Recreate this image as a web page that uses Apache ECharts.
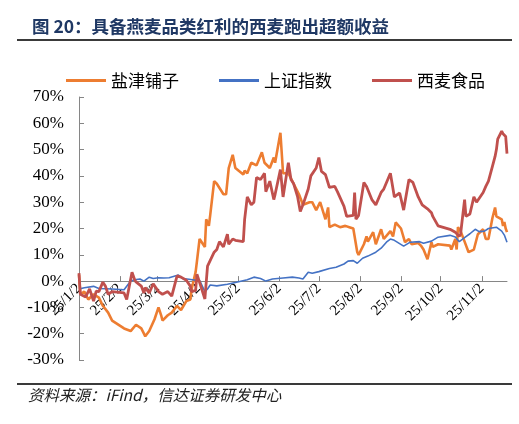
<!DOCTYPE html>
<html>
<head>
<meta charset="utf-8">
<script src="https://cdn.jsdelivr.net/npm/echarts@6/dist/echarts.min.js"></script>
<style>
  html, body { margin: 0; padding: 0; background: #fff; }
  #main { width: 519px; height: 424px; }
</style>
</head>
<body>
<div id="main"></div>
<script>
// 图表数据（从原图读取的估计值，单位 %）
let names = ['盐津铺子', '上证指数', '西麦食品']
let colors = ['#ED7D31', '#4472C4', '#C0504D']

let tickDates = ['2025-01-02', '2025-02-02', '2025-03-02', '2025-04-02', '2025-05-02', '2025-06-02',
  '2025-07-02', '2025-08-02', '2025-09-02', '2025-10-02', '2025-11-02']
let tickLabels = ['25/1/2', '25/2/2', '25/3/2', '25/4/2', '25/5/2', '25/6/2',
  '25/7/2', '25/8/2', '25/9/2', '25/10/2', '25/11/2']

let yanjinDates = ['2025-01-02','2025-01-03','2025-01-06','2025-01-09','2025-01-13','2025-01-14','2025-01-17','2025-01-20','2025-01-24','2025-01-27',
  '2025-02-05','2025-02-10','2025-02-14','2025-02-18','2025-02-20','2025-02-21','2025-02-24','2025-02-28',
  '2025-03-03','2025-03-05','2025-03-06','2025-03-10','2025-03-13','2025-03-17','2025-03-20','2025-03-24','2025-03-27','2025-03-28','2025-03-31',
  '2025-04-01','2025-04-03','2025-04-07','2025-04-08','2025-04-10','2025-04-11','2025-04-14','2025-04-16','2025-04-21','2025-04-23','2025-04-25','2025-04-28','2025-04-30',
  '2025-05-06','2025-05-07','2025-05-09','2025-05-12','2025-05-16','2025-05-20','2025-05-22','2025-05-26','2025-05-29','2025-05-30',
  '2025-06-03','2025-06-05','2025-06-09','2025-06-13','2025-06-17','2025-06-20','2025-06-25','2025-06-27','2025-06-30',
  '2025-07-03','2025-07-07','2025-07-09','2025-07-10','2025-07-14','2025-07-18','2025-07-22','2025-07-25','2025-07-28','2025-07-31',
  '2025-08-01','2025-08-05','2025-08-07','2025-08-08','2025-08-12','2025-08-14','2025-08-18','2025-08-20','2025-08-25','2025-08-27','2025-08-29',
  '2025-09-02','2025-09-05','2025-09-08','2025-09-10','2025-09-15','2025-09-17','2025-09-19','2025-09-22','2025-09-25','2025-09-26','2025-09-30',
  '2025-10-09','2025-10-10','2025-10-13','2025-10-14','2025-10-15','2025-10-17','2025-10-20','2025-10-23','2025-10-27','2025-10-30',
  '2025-11-03','2025-11-05','2025-11-07','2025-11-10','2025-11-12','2025-11-13','2025-11-17','2025-11-18','2025-11-19','2025-11-20','2025-11-21']
let yanjinVals = [2.5,-5,-4,-7,-5,-5.5,-6.3,-9.4,-12,-15,
  -18,-19,-16.6,-18,-20,-21,-19,-14.5,
  -10,-13,-15,-13,-12,-9.4,-11,-7.6,-7,-3,3.4,
  7.5,16,13,23.5,21,25,38,37,33,33,43,48,43,
  40.5,42,41,45,44,49,45,43,47,45,
  56.4,41,41,37,33,29,30,30,27,
  30,23.5,28,20.5,21.5,20.5,21,20.5,20,11,
  10,14,17,15,18.6,14,19.7,16,19,17,22.3,
  20,14.8,16,14,14.5,13.5,12,8.3,14.8,13,14,
  13.5,12,16,12,20.5,19,15,11,12,17.8,
  19.7,16,16,24,28,24.6,23.5,21,22.5,20,18.6]

let shangzhengDates = ['2025-01-02','2025-01-06','2025-01-13','2025-01-17','2025-01-27',
  '2025-02-05','2025-02-10','2025-02-13','2025-02-17','2025-02-20','2025-02-24','2025-02-27',
  '2025-03-03','2025-03-07','2025-03-11','2025-03-18','2025-03-21','2025-03-26','2025-03-31',
  '2025-04-03','2025-04-07','2025-04-09','2025-04-11','2025-04-16','2025-04-24','2025-04-30',
  '2025-05-09','2025-05-14','2025-05-19','2025-05-23','2025-05-28',
  '2025-06-05','2025-06-12','2025-06-17','2025-06-20','2025-06-24','2025-06-27',
  '2025-07-02','2025-07-10','2025-07-15','2025-07-21','2025-07-24','2025-07-28','2025-07-31',
  '2025-08-04','2025-08-08','2025-08-14','2025-08-18','2025-08-22','2025-08-25','2025-08-28',
  '2025-09-04','2025-09-09','2025-09-16','2025-09-19','2025-09-25','2025-09-30',
  '2025-10-09','2025-10-13','2025-10-16','2025-10-20','2025-10-24','2025-10-28','2025-10-31',
  '2025-11-04','2025-11-07','2025-11-13','2025-11-17','2025-11-19','2025-11-21']
let shangzhengVals = [-3,-2.5,-2,-2.8,-3,
  -3.3,0,0.5,0.8,0,1.5,1,
  1.3,1.2,1.3,2.3,1,0.7,0.3,
  0.3,-4,-3,-1.5,-1.8,-1.2,-0.5,
  0.5,1.5,1,0,0.8,
  1.2,1.5,1.2,0.8,3.4,3,
  3.6,4.8,5.3,6.5,7.6,7.8,6.8,
  8.7,9.5,11,12.5,14.8,16,15.5,
  13.3,14.8,15,14.4,15.2,16.7,
  17.4,16.8,15,16.5,18,19.7,18.8,
  19,20,20.5,19,17.5,14.8]

let ximaiDates = ['2025-01-02','2025-01-03','2025-01-07','2025-01-10','2025-01-13','2025-01-15','2025-01-17','2025-01-20','2025-01-22','2025-01-24','2025-01-27',
  '2025-02-05','2025-02-07','2025-02-11','2025-02-13','2025-02-14','2025-02-18','2025-02-20','2025-02-21','2025-02-24','2025-02-27',
  '2025-03-03','2025-03-06','2025-03-10','2025-03-13','2025-03-14','2025-03-17','2025-03-20','2025-03-24','2025-03-27','2025-03-28','2025-03-31',
  '2025-04-01','2025-04-03','2025-04-07','2025-04-09','2025-04-14','2025-04-16','2025-04-18','2025-04-21','2025-04-24','2025-04-25','2025-04-28','2025-04-30',
  '2025-05-06','2025-05-07','2025-05-09','2025-05-12','2025-05-14','2025-05-16','2025-05-19','2025-05-22','2025-05-23','2025-05-26','2025-05-29','2025-05-30',
  '2025-06-03','2025-06-05','2025-06-09','2025-06-11','2025-06-13','2025-06-16','2025-06-18','2025-06-20','2025-06-24','2025-06-26','2025-06-30',
  '2025-07-02','2025-07-04','2025-07-07','2025-07-10','2025-07-14','2025-07-16','2025-07-21','2025-07-23','2025-07-28','2025-07-29','2025-07-30',
  '2025-08-01','2025-08-05','2025-08-07','2025-08-11','2025-08-14','2025-08-18','2025-08-20','2025-08-25','2025-08-28',
  '2025-09-01','2025-09-04','2025-09-05','2025-09-08','2025-09-11','2025-09-15','2025-09-18','2025-09-22','2025-09-25','2025-09-26','2025-09-30',
  '2025-10-09','2025-10-13','2025-10-16','2025-10-17','2025-10-20','2025-10-21','2025-10-24','2025-10-27','2025-10-29',
  '2025-11-03','2025-11-05','2025-11-07','2025-11-10','2025-11-12','2025-11-13','2025-11-14','2025-11-17','2025-11-18','2025-11-19','2025-11-20','2025-11-21']
let ximaiVals = [3,-5,-6,-3,-7.6,-3.8,-4,-0.4,-2,-5,-4,
  -4.5,-7,3.4,0.5,-0.3,-1.9,-4.5,-2.5,-4.5,-1,
  -4,-5,-4,-5.7,-5,2,1.5,0.3,-1.9,-4,-3.5,
  2.6,-0.5,-6.8,5.7,11,12,15,13,17.8,14,16,15.5,
  15,23.5,32,29,30,39.4,38.6,41,34,38,31,33,
  42.4,32,45,38.6,37,32,26.5,29,35,40,43,
  47,41.7,40.5,35.6,36,34,28.4,24.6,25,33.7,23.5,
  25,37.5,36,31,29,33.7,35,41,32,
  33.5,27,30,38.6,37.5,32,29,27.5,26,24.6,21,
  19.7,18.6,17,18,31,24.6,25.5,32,30,
  33.7,36,38,43.6,47.4,50,54,57,56,56.5,55,48.5]

// 日期字符串转时间戳
let toTime = function(s) {
  let p = s.split('-')
  return new Date(+p[0], +p[1] - 1, +p[2]).getTime()
}

let pairs = function(dates, vals) {
  return dates.map(function(d, i) { return [toTime(d), vals[i]] })
}

let tickValues = tickDates.map(toTime)

let myChart = echarts.init(document.getElementById('main'), null, { renderer: 'canvas' })

let lineSeries = function(i, data, width) {
  return {
    name: names[i],
    type: 'line',
    data: data,
    symbol: 'none',
    smooth: false,
    color: colors[i],
    lineStyle: { color: colors[i], width: width },
    emphasis: { disabled: true }
  }
}

// 网格：上 97，下 64，高 263；0% 在 70/100 处，x 轴上移到 0 线
let gridH = 424 - 97 - 64
let zeroShift = -gridH * 30 / 100

let option = {
  backgroundColor: '#fff',
  animation: false,
  title: {
    text: '图 20：具备燕麦品类红利的西麦跑出超额收益',
    left: 27,
    top: 13,
    textStyle: { fontFamily: 'Noto Sans CJK SC', fontWeight: 'bold', fontSize: 17.5, color: '#1F3864' }
  },
  graphic: [
    { type: 'line', shape: { x1: 17, y1: 40, x2: 512, y2: 40 }, style: { stroke: '#3a3a3a', lineWidth: 2 } },
    { type: 'line', shape: { x1: 17, y1: 384, x2: 512, y2: 384 }, style: { stroke: '#3a3a3a', lineWidth: 2 } },
    {
      type: 'text',
      left: 28,
      top: 387,
      style: {
        text: '资料来源：iFind，信达证券研发中心',
        font: 'italic 15.5px "Noto Sans CJK SC"',
        fill: '#222'
      }
    }
  ],
  legend: {
    left: 61,
    top: 67,
    icon: 'rect',
    itemWidth: 40,
    itemHeight: 3,
    itemGap: 40,
    textStyle: { fontFamily: 'Noto Sans CJK SC', fontSize: 17, color: '#000' },
    data: names
  },
  grid: { left: 79, right: 12, top: 97, bottom: 64, containLabel: false },
  xAxis: {
    type: 'value',
    min: toTime('2025-01-02'),
    max: toTime('2025-11-21'),
    offset: zeroShift,
    splitLine: { show: false },
    axisLine: { show: true, onZero: false, lineStyle: { color: '#868686', width: 1 } },
    axisTick: { show: true, inside: true, length: 5, customValues: tickValues, lineStyle: { color: '#868686' } },
    axisLabel: {
      show: true,
      rotate: 45,
      margin: 5,
      customValues: tickValues,
      showMinLabel: true,
      showMaxLabel: true,
      hideOverlap: false,
      fontFamily: 'Liberation Serif',
      fontSize: 15,
      color: '#000',
      formatter: function(v) {
        let i = tickValues.indexOf(v)
        return i >= 0 ? tickLabels[i] : ''
      }
    }
  },
  yAxis: {
    type: 'value',
    min: -30,
    max: 70,
    interval: 10,
    splitLine: { show: false },
    axisLine: { show: true, lineStyle: { color: '#868686', width: 1 } },
    axisTick: { show: true, inside: true, length: 5, lineStyle: { color: '#868686' } },
    axisLabel: {
      margin: 15,
      fontFamily: 'Liberation Serif',
      fontSize: 17,
      color: '#000',
      formatter: '{value}%'
    }
  },
  series: [
    lineSeries(0, pairs(yanjinDates, yanjinVals), 2.6),
    lineSeries(1, pairs(shangzhengDates, shangzhengVals), 1.6),
    lineSeries(2, pairs(ximaiDates, ximaiVals), 2.8)
  ]
}

myChart.setOption(option)
</script>
</body>
</html>
